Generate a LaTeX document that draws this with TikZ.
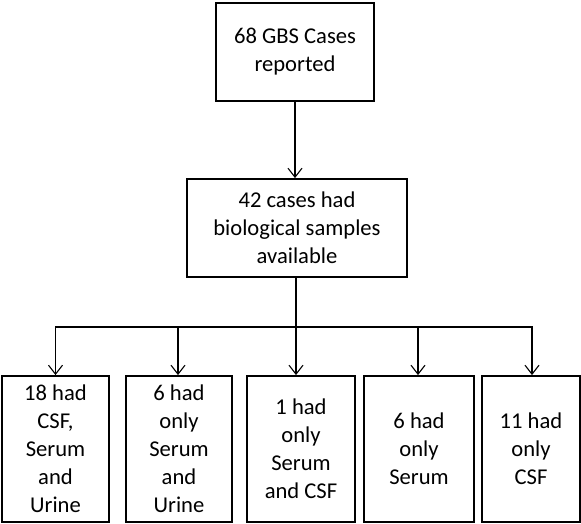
\documentclass[tikz,border=0pt]{standalone}
\usepackage{fontspec}
\setmainfont{Carlito}
\usetikzlibrary{arrows.meta,positioning,calc}

\begin{document}
\begin{tikzpicture}
[x=1pt,y=1pt,
>={Straight Barb[length=9pt,width=14pt]},
every node/.style={draw=black,line width=1.8pt,inner sep=0pt,align=center,
  font=\fontsize{22.6}{28}\selectfont},
line/.style={line width=1.1pt}]
\useasboundingbox (0,0) rectangle (581,-524);
\node[minimum width=158,minimum height=98] (cases) at (295,-52) {68 GBS Cases\\reported};
\node[minimum width=220,minimum height=98] (samples) at (297,-228) {42 cases had\\biological samples\\available};
\node[minimum width=107,minimum height=146] (b1) at (55.5,-449) {18 had\\CSF,\\Serum\\and\\Urine};
\node[minimum width=106,minimum height=146] (b2) at (179,-449) {6 had\\only\\Serum\\and\\Urine};
\node[minimum width=108,minimum height=146] (b3) at (301,-449) {1 had\\only\\Serum\\and CSF};
\node[minimum width=110,minimum height=146] (b4) at (419,-449) {6 had\\only\\Serum};
\node[minimum width=98,minimum height=146] (b5) at (531,-449) {11 had\\only\\CSF};
% connectors
\draw[line,->] (cases.south) -- (cases.south |- samples.north);
\draw[line] (samples.south -| 296,0) -- (296,-327) coordinate (split);
\draw[line,->] (split) -| (b1.north);
\draw[line,->] (split) -| ($(b2.north)+(-1,0)$);
\draw[line,->] (split) -- (split |- b3.north);
\draw[line,->] (split) -| ($(b4.north)+(-1,0)$);
\draw[line,->] (split) -| ($(b5.north)+(1,0)$);
\end{tikzpicture}
\end{document}
